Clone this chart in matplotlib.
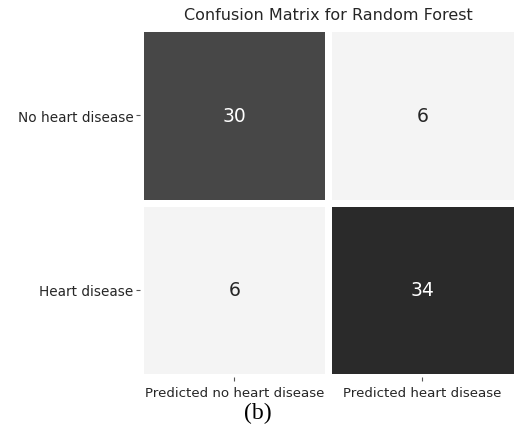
import numpy as np
import matplotlib
matplotlib.use("Agg")
import matplotlib.pyplot as plt
from matplotlib.colors import LinearSegmentedColormap

row_labels = ["No heart disease", "Heart disease"]
col_labels = ["Predicted no heart disease", "Predicted heart disease"]
cm = np.array([[30, 6],
               [6, 34]])

cmap = LinearSegmentedColormap.from_list("grey_cm", ["#f4f4f4", "#2a2a2a"])

fig = plt.figure(figsize=(5.16, 4.31), dpi=100)
ax = fig.add_axes([0.272, 0.124, 0.729, 0.8076])

ax.pcolormesh(cm, cmap=cmap, vmin=cm.min(), vmax=cm.max(),
              edgecolors="white", linewidth=5)
ax.set_xlim(0, 2)
ax.set_ylim(2, 0)

for i in range(cm.shape[0]):
    for j in range(cm.shape[1]):
        v = cm[i, j]
        col = "white" if v > cm.mean() else "#262626"
        ax.text(j + 0.5, i + 0.5, str(v), ha="center", va="center",
                fontsize=13.5, color=col)

ax.set_xticks(np.arange(len(col_labels)) + 0.5)
ax.set_xticklabels(col_labels, fontsize=9.6, color="#262626")
ax.set_yticks(np.arange(len(row_labels)) + 0.5)
ax.set_yticklabels(row_labels, fontsize=9.8, color="#262626")
ax.tick_params(length=3, width=0.8, color="#555555", pad=2)
ax.tick_params(axis="x", pad=4)
for s in ax.spines.values():
    s.set_visible(False)

ax.set_title("Confusion Matrix for Random Forest", fontsize=11.5,
             color="#262626", pad=7)

fig.text(0.5, 0.04, "(b)", ha="center", va="center", fontsize=17,
         family="Liberation Serif", color="black")

fig.savefig("out.png", dpi=100)
